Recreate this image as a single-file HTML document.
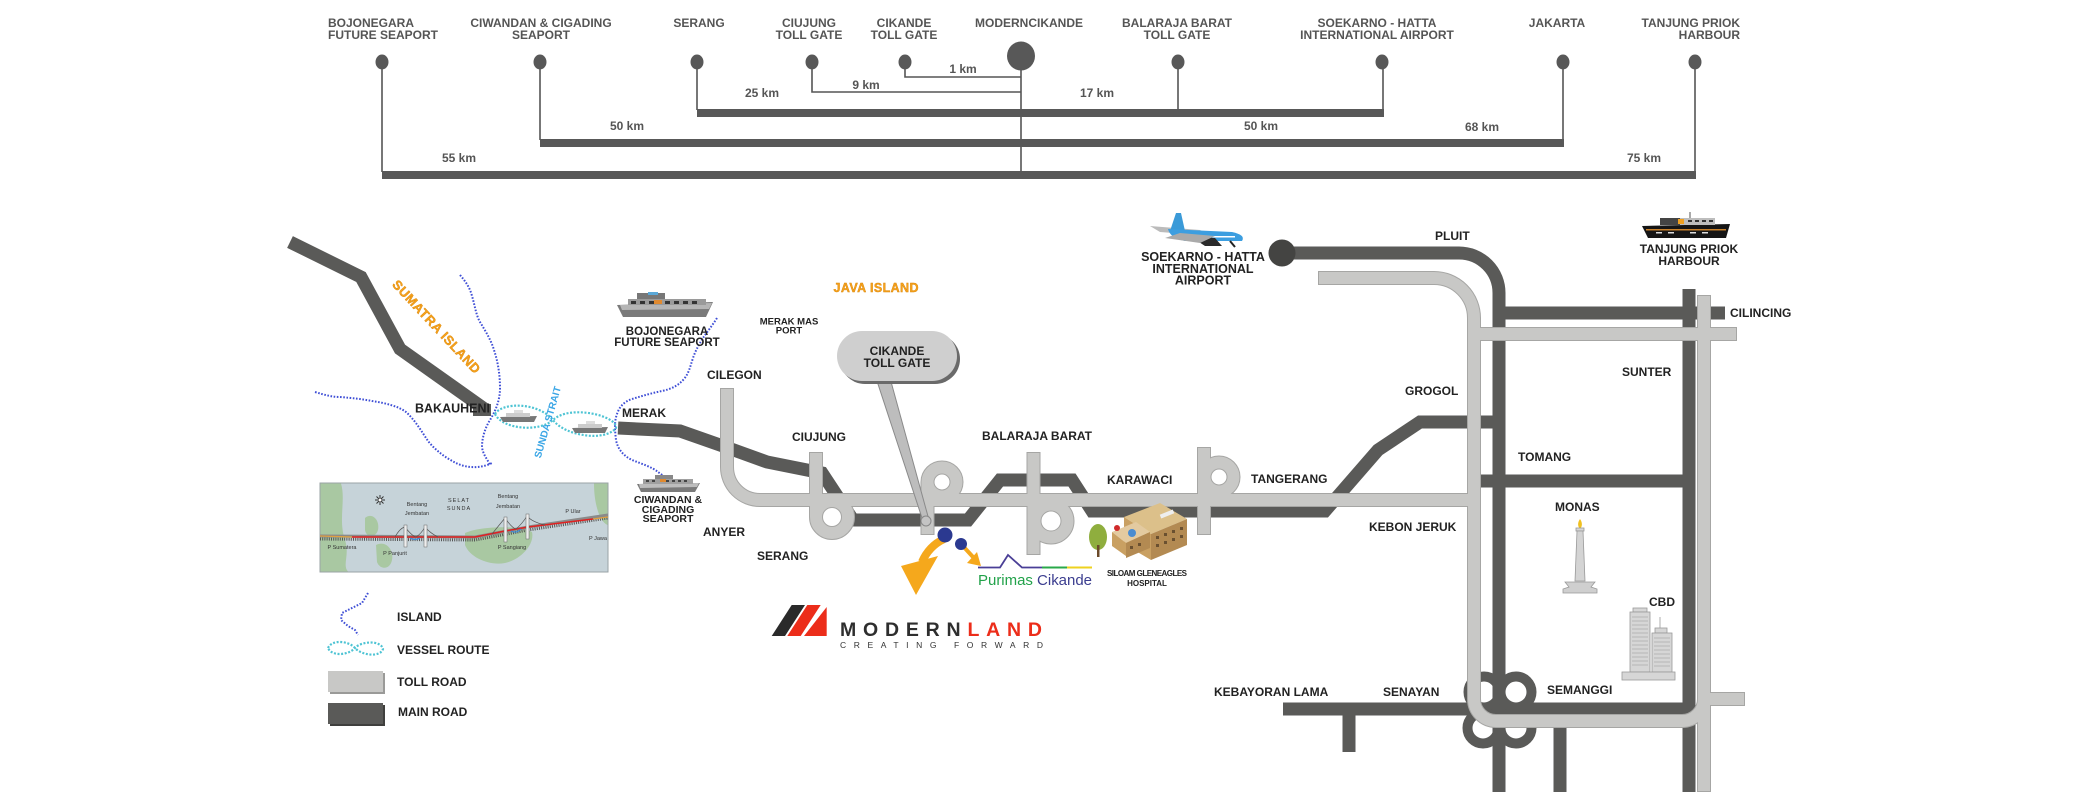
<!DOCTYPE html>
<html><head><meta charset="utf-8">
<style>
html,body{margin:0;padding:0;background:#fff;}
svg{display:block}
text{font-family:"Liberation Sans",sans-serif;font-weight:bold;}
.t{fill:#555;font-size:12px;text-anchor:middle}
.k{fill:#555;font-size:12px;text-anchor:middle}
.m{fill:#222;font-size:12px}
.c{fill:#222;text-anchor:middle}
.sm{font-weight:normal;fill:#333;font-size:5.5px;text-anchor:middle}
</style></head>
<body>
<svg width="2087" height="812" viewBox="0 0 2087 812" xmlns="http://www.w3.org/2000/svg">
<rect width="2087" height="812" fill="#fff"/>

<!-- ===== TOP DISTANCE CHART ===== -->
<g>
<text class="t" x="328" y="27" style="text-anchor:start">BOJONEGARA</text>
<text class="t" x="328" y="39" style="text-anchor:start">FUTURE SEAPORT</text>
<text class="t" x="541" y="27">CIWANDAN &amp; CIGADING</text>
<text class="t" x="541" y="39">SEAPORT</text>
<text class="t" x="699" y="27">SERANG</text>
<text class="t" x="809" y="27">CIUJUNG</text>
<text class="t" x="809" y="39">TOLL GATE</text>
<text class="t" x="904" y="27">CIKANDE</text>
<text class="t" x="904" y="39">TOLL GATE</text>
<text class="t" x="1029" y="27">MODERNCIKANDE</text>
<text class="t" x="1177" y="27">BALARAJA BARAT</text>
<text class="t" x="1177" y="39">TOLL GATE</text>
<text class="t" x="1377" y="27">SOEKARNO - HATTA</text>
<text class="t" x="1377" y="39">INTERNATIONAL AIRPORT</text>
<text class="t" x="1557" y="27">JAKARTA</text>
<text class="t" x="1740" y="27" style="text-anchor:end">TANJUNG PRIOK</text>
<text class="t" x="1740" y="39" style="text-anchor:end">HARBOUR</text>

<g stroke="#555" stroke-width="1.6" fill="none">
<path d="M905,62 V77 H1021"/>
<path d="M812,62 V92 H1021"/>
<path d="M1021,60 V175"/>
<path d="M697,62 V110"/>
<path d="M1178,62 V110"/>
<path d="M1383,62 V110"/>
<path d="M540,62 V140"/>
<path d="M1563,62 V140"/>
<path d="M382,62 V172"/>
<path d="M1695,62 V172"/>
</g>
<g fill="#585858">
<rect x="697" y="109" width="687" height="8"/>
<rect x="540" y="139" width="1024" height="8"/>
<rect x="382" y="171" width="1314" height="8"/>
<ellipse cx="382" cy="62" rx="6.5" ry="7.5"/>
<ellipse cx="540" cy="62" rx="6.5" ry="7.5"/>
<ellipse cx="697" cy="62" rx="6.5" ry="7.5"/>
<ellipse cx="812" cy="62" rx="6.5" ry="7.5"/>
<ellipse cx="905" cy="62" rx="6.5" ry="7.5"/>
<ellipse cx="1178" cy="62" rx="6.5" ry="7.5"/>
<ellipse cx="1382" cy="62" rx="6.5" ry="7.5"/>
<ellipse cx="1563" cy="62" rx="6.5" ry="7.5"/>
<ellipse cx="1695" cy="62" rx="6.5" ry="7.5"/>
<ellipse cx="1021" cy="56" rx="14" ry="14.5"/>
</g>
<text class="k" x="963" y="73">1 km</text>
<text class="k" x="866" y="89">9 km</text>
<text class="k" x="762" y="97">25 km</text>
<text class="k" x="1097" y="97">17 km</text>
<text class="k" x="627" y="130">50 km</text>
<text class="k" x="1261" y="130">50 km</text>
<text class="k" x="1482" y="131">68 km</text>
<text class="k" x="459" y="162">55 km</text>
<text class="k" x="1644" y="162">75 km</text>
</g>

<!-- ===== MAP: DARK ROADS ===== -->
<g stroke="#5a5a58" stroke-width="13" fill="none" stroke-linejoin="miter">
<polyline points="290,242 361,277 400,349 486,410"/>
<polyline points="618,428 680,431 720,445 767,462 822,473 853,520 968,520 1000,480 1072,480 1092,511 1325,511 1378,450 1420,422 1505,422"/>
<path d="M1282,253 H1459 A40,40 0 0 1 1499,293 V792"/>
<path d="M1499,313 H1725"/>
<path d="M1480,481 H1689"/>
<path d="M1689,289 V792"/>
<path d="M1283,709 H1689"/>
<path d="M1349,709 V752"/>
<path d="M1560,709 V792"/>
</g>
<rect x="473" y="404" width="18" height="12" fill="#5a5a58"/>
<circle cx="1282" cy="253" r="13.5" fill="#444442"/>
<!-- semanggi rings -->
<g stroke="#5a5a58" stroke-width="10" fill="none">
<circle cx="1484" cy="692" r="15.5"/>
<circle cx="1516" cy="692" r="15.5"/>
<circle cx="1483" cy="728" r="15.5"/>
<circle cx="1516" cy="728" r="15.5"/>
</g>

<!-- ===== MAP: TOLL ROADS ===== -->
<g fill="none" stroke-linejoin="miter">
<g stroke="#a6a6a4" stroke-width="14">
<path d="M727,388 V467 A33,33 0 0 0 760,500 H1474"/>
<path d="M816,452 V517"/>
<circle cx="832" cy="517" r="16"/>
<path d="M927.5,482 V535"/>
<circle cx="942" cy="482" r="14.5"/>
<path d="M1033.5,452 V555"/>
<circle cx="1051" cy="521" r="16.5"/>
<path d="M1204,447 V535"/>
<circle cx="1219" cy="477" r="14.5"/>
<path d="M1318,278 H1434 A40,40 0 0 1 1474,318 V699 A22,22 0 0 0 1496,721 H1682 A22,22 0 0 0 1704,699"/>
<path d="M1704,295 V792"/>
<path d="M1474,334 H1737"/>
<path d="M1704,699 H1745"/>
</g>
<g stroke="#c8c8c6" stroke-width="12">
<path d="M727,389 V467 A33,33 0 0 0 760,500 H1474"/>
<path d="M816,453 V517"/>
<circle cx="832" cy="517" r="16"/>
<path d="M927.5,482 V534"/>
<circle cx="942" cy="482" r="14.5"/>
<path d="M1033.5,453 V554"/>
<circle cx="1051" cy="521" r="16.5"/>
<path d="M1204,448 V534"/>
<circle cx="1219" cy="477" r="14.5"/>
<path d="M1319,278 H1434 A40,40 0 0 1 1474,318 V699 A22,22 0 0 0 1496,721 H1682 A22,22 0 0 0 1704,699"/>
<path d="M1704,296 V791"/>
<path d="M1474,334 H1736"/>
<path d="M1704,699 H1744"/>
</g>
</g>

<!-- ===== ISLAND LINES (blue dotted) ===== -->
<g fill="none" stroke="#3f4fd6" stroke-width="2" stroke-dasharray="1.6 1.6" stroke-linejoin="round">
<path d="M460,275 C466,282 470,288 472,296 C475,306 476,315 480,322 C486,332 491,340 494,350 C498,362 500,375 500,388 C500,400 496,410 490,420 C485,428 482,438 482,447 C483,455 488,460 490,465"/>
<path d="M315,392 C325,395 332,397 340,397 C352,398 362,399 372,401 C385,403 398,406 406,412 C415,420 422,432 428,441 C436,451 446,458 456,463 C466,468 480,469 492,463"/>
<path d="M717,318 C712,326 707,332 703,338 C698,346 695,352 693,358 C690,367 689,373 684,379 C678,386 671,389 662,391 C652,393 642,396 632,399 C623,402 619,408 617,414 C614,422 615,431 616,440 C618,450 624,456 632,460 C642,464 652,467 658,472 L665,477"/>
</g>
<!-- legend island -->
<polyline points="368,593 362,603 350,609 342,613 341,620 348,626 355,630 358,635" fill="none" stroke="#3f4fd6" stroke-width="2" stroke-dasharray="1.6 1.6"/>

<!-- ===== VESSEL ROUTE (cyan dotted) ===== -->
<g fill="none" stroke="#4fc4d4" stroke-width="2.2" stroke-dasharray="2 1.6">
<path d="M495,414 C502,402 538,402 553,420 C565,436 605,442 616,428 C618,416 570,404 553,420 C540,432 503,430 495,414 Z"/>
<path d="M328,648 C332,639 349,641 355,648 C361,655 380,658 383,649 C381,640 361,641 355,648 C349,655 332,657 328,648 Z"/>
</g>

<!-- ships in strait -->
<g>
<polygon points="500,417 537,416 534,422 503,422" fill="#777"/>
<rect x="506" y="413" width="24" height="4" fill="#ccc"/>
<rect x="514" y="410" width="9" height="3" fill="#ddd"/>
<polygon points="572,428 608,427 605,433 575,433" fill="#777"/>
<rect x="578" y="424" width="24" height="4" fill="#ccc"/>
<rect x="586" y="421" width="9" height="3" fill="#ddd"/>
</g>

<!-- Bojonegara ship -->
<g>
<polygon points="617,305 713,302 706,317 623,317" fill="#7a7a7a"/>
<polygon points="620,305 712,303 709,309 622,310" fill="#b5b5b5"/>
<rect x="628" y="299" width="78" height="6" fill="#9a9a9a"/>
<g fill="#333"><rect x="631" y="301" width="5" height="3"/><rect x="640" y="301" width="5" height="3"/><rect x="649" y="301" width="5" height="3"/><rect x="665" y="301" width="5" height="3"/><rect x="674" y="301" width="5" height="3"/><rect x="683" y="301" width="5" height="3"/><rect x="692" y="301" width="5" height="3"/></g>
<rect x="637" y="293" width="28" height="6" fill="#777"/>
<rect x="648" y="292" width="10" height="3" fill="#5aa8d8"/>
<rect x="654" y="300" width="8" height="4" fill="#e08a30"/>
</g>
<!-- Ciwandan ship -->
<g>
<polygon points="637,484 700,483 695,492 641,492" fill="#7a7a7a"/>
<polygon points="639,484 699,483 697,487 640,488" fill="#bdbdbd"/>
<rect x="643" y="479" width="50" height="5" fill="#a0a0a0"/>
<g fill="#444"><rect x="646" y="480" width="3" height="2"/><rect x="652" y="480" width="3" height="2"/><rect x="666" y="480" width="3" height="2"/><rect x="672" y="480" width="3" height="2"/><rect x="678" y="480" width="3" height="2"/><rect x="684" y="480" width="3" height="2"/></g>
<rect x="655" y="475" width="18" height="4" fill="#888"/>
<rect x="660" y="479" width="6" height="3" fill="#e08a30"/>
</g>
<!-- Tanjung Priok ship -->
<g>
<polygon points="1642,226 1730,224 1726,238 1648,238" fill="#151515"/>
<rect x="1646" y="229" width="80" height="1.5" fill="#c8802a"/>
<rect x="1660" y="218" width="55" height="7" fill="#bdbdbd"/>
<rect x="1660" y="218" width="20" height="7" fill="#444"/>
<rect x="1678" y="219" width="6" height="5" fill="#f0a020"/>
<g fill="#333"><rect x="1688" y="220" width="4" height="2"/><rect x="1695" y="220" width="4" height="2"/><rect x="1702" y="220" width="4" height="2"/><rect x="1709" y="220" width="4" height="2"/></g>
<line x1="1690" y1="212" x2="1690" y2="218" stroke="#555" stroke-width="1"/>
<g fill="#ddd"><rect x="1656" y="232" width="6" height="1.5"/><rect x="1668" y="232" width="6" height="1.5"/><rect x="1690" y="232" width="6" height="1.5"/><rect x="1702" y="232" width="6" height="1.5"/></g>
</g>
<!-- Airplane -->
<g>
<polygon points="1150,226 1200,230 1212,236 1160,232" fill="#bbb"/>
<polygon points="1170,231 1176,213 1181,213 1185,231" fill="#3a9ad8"/>
<path d="M1168,229 L1232,232 Q1246,235 1242,241 L1185,241 Q1170,238 1168,229 Z" fill="#3c9ee0"/>
<rect x="1185" y="236" width="50" height="1.5" fill="#fff"/>
<polygon points="1190,236 1215,238 1222,246 1205,246" fill="#2a2a2a"/>
<polygon points="1180,233 1215,236 1200,243 1165,238" fill="#aaa"/>
<line x1="1230" y1="241" x2="1235" y2="247" stroke="#222" stroke-width="2"/>
</g>

<!-- Orange island texts -->
<text x="436" y="331" transform="rotate(47 436 327)" font-size="13" fill="#f6a21c" stroke="#d9860a" stroke-width="0.4" text-anchor="middle" textLength="122">SUMATRA ISLAND</text>
<text x="876" y="292" font-size="12.5" fill="#f6a21c" stroke="#d9860a" stroke-width="0.4" text-anchor="middle" textLength="85">JAVA ISLAND</text>
<text x="547" y="426" transform="rotate(-74 547 422)" font-size="10" fill="#3aa6e6" text-anchor="middle" textLength="74">SUNDA STRAIT</text>

<!-- ===== MAP LABELS ===== -->
<g class="m">
<text class="m" x="415" y="412.5" style="font-size:12.5px">BAKAUHENI</text>
<text class="m" x="622" y="417">MERAK</text>
<text class="m" x="707" y="379">CILEGON</text>
<text class="m" x="792" y="441">CIUJUNG</text>
<text class="m" x="703" y="536">ANYER</text>
<text class="m" x="757" y="560">SERANG</text>
<text class="m" x="982" y="440">BALARAJA BARAT</text>
<text class="m" x="1107" y="484">KARAWACI</text>
<text class="m" x="1251" y="483">TANGERANG</text>
<text class="m" x="1405" y="395">GROGOL</text>
<text class="m" x="1369" y="531">KEBON JERUK</text>
<text class="m" x="1435" y="240">PLUIT</text>
<text class="m" x="1518" y="461">TOMANG</text>
<text class="m" x="1622" y="376">SUNTER</text>
<text class="m" x="1730" y="317">CILINCING</text>
<text class="m" x="1555" y="511">MONAS</text>
<text class="m" x="1649" y="606">CBD</text>
<text class="m" x="1214" y="696">KEBAYORAN LAMA</text>
<text class="m" x="1383" y="696">SENAYAN</text>
<text class="m" x="1547" y="694">SEMANGGI</text>
</g>
<g class="c">
<text class="c" x="667" y="335" font-size="11.5">BOJONEGARA</text>
<text class="c" x="667" y="346" font-size="11.5">FUTURE SEAPORT</text>
<text class="c" x="668" y="503" font-size="10.5">CIWANDAN &amp;</text>
<text class="c" x="668" y="513" font-size="10.5">CIGADING</text>
<text class="c" x="668" y="522" font-size="10.5">SEAPORT</text>
<text class="c" x="789" y="324.5" font-size="9.5">MERAK MAS</text>
<text class="c" x="789" y="333.5" font-size="9.5">PORT</text>
<text class="c" x="1203" y="261" font-size="12.5">SOEKARNO - HATTA</text>
<text class="c" x="1203" y="273" font-size="12.5">INTERNATIONAL</text>
<text class="c" x="1203" y="284.5" font-size="12.5">AIRPORT</text>
<text class="c" x="1689" y="253" font-size="12">TANJUNG PRIOK</text>
<text class="c" x="1689" y="265" font-size="12">HARBOUR</text>
<text class="c" x="1147" y="576" font-size="8" textLength="80">SILOAM GLENEAGLES</text>
<text class="c" x="1147" y="586" font-size="8">HOSPITAL</text>
</g>

<!-- Cikande toll gate bubble -->
<g>
<polygon points="876,378 890,378 929,520 923,521" fill="#bdbdbd" stroke="#8a8a8a" stroke-width="1"/>
<rect x="840" y="334" width="120" height="50" rx="25" fill="#6a6a6a"/>
<rect x="837" y="331" width="120" height="50" rx="25" fill="#cfcfcf"/>
<circle cx="926" cy="521" r="5" fill="#c4c4c4" stroke="#888" stroke-width="1"/>
<text class="c" x="897" y="355" font-size="12">CIKANDE</text>
<text class="c" x="897" y="367" font-size="12">TOLL GATE</text>
</g>

<!-- Purimas -->
<g>
<path d="M944,539 Q929,546 922,562" stroke="#f5a81c" stroke-width="8" fill="none"/>
<polygon points="901,566 938,556 916,595" fill="#f5a81c"/>
<circle cx="945" cy="535" r="7.5" fill="#2b3990"/>
<path d="M962,545 L973,557" stroke="#f5a81c" stroke-width="4" fill="none"/>
<polygon points="967,563 977,552 981,566" fill="#f5a81c"/>
<circle cx="961" cy="544" r="6" fill="#2b3990"/>
<polyline points="978,567.5 1000,567.5 1008,555 1022,567.5 1042,567.5" fill="none" stroke="#4a3f96" stroke-width="1.8"/>
<line x1="1042" y1="567.5" x2="1067" y2="567.5" stroke="#2aa84a" stroke-width="2"/>
<line x1="1067" y1="567.5" x2="1092" y2="567.5" stroke="#eed21f" stroke-width="2"/>
<text x="978" y="585" font-size="15" style="font-weight:normal" textLength="114"><tspan fill="#22a24a">Purimas </tspan><tspan fill="#3b3d8f">Cikande</tspan></text>
</g>

<!-- Siloam hospital -->
<g>
<ellipse cx="1098" cy="537" rx="9" ry="13" fill="#8fae3e"/>
<rect x="1097" y="545" width="2.5" height="12" fill="#6b4a2a"/>
<polygon points="1124,517 1160,503 1187,519 1151,534" fill="#dcc08a"/>
<polygon points="1124,517 1151,534 1151,560 1124,544" fill="#c9a062"/>
<polygon points="1151,534 1187,519 1187,545 1151,560" fill="#b38a52"/>
<polygon points="1112,532 1136,522 1150,532 1126,543" fill="#e3caa0"/>
<polygon points="1112,532 1126,543 1126,556 1112,546" fill="#c9a062"/>
<polygon points="1126,543 1150,532 1150,548 1126,558" fill="#b38a52"/>
<circle cx="1132" cy="533" r="4" fill="#4a8cd0"/>
<circle cx="1117" cy="528" r="3" fill="#d02a2a"/>
<g fill="#6a5030">
<rect x="1156" y="536" width="3" height="3"/><rect x="1164" y="533" width="3" height="3"/><rect x="1172" y="530" width="3" height="3"/><rect x="1180" y="527" width="3" height="3"/>
<rect x="1156" y="544" width="3" height="3"/><rect x="1164" y="541" width="3" height="3"/><rect x="1172" y="538" width="3" height="3"/><rect x="1180" y="535" width="3" height="3"/>
<rect x="1130" y="546" width="3" height="3"/><rect x="1138" y="543" width="3" height="3"/>
</g>
<rect x="1160" y="512" width="14" height="4" fill="#eee" transform="rotate(-22 1167 514)"/>
</g>

<!-- Modernland logo -->
<g>
<polygon points="771.7,636 785,636 805,605 791.7,605" fill="#2a2a2a"/>
<polygon points="787.3,636 800.7,636 820.7,605 807.3,605" fill="#ec2d1a"/>
<polygon points="804,636 826.7,636 826.7,607" fill="#ec2d1a"/>
<text x="840" y="636" font-size="19.5" textLength="202" lengthAdjust="spacing"><tspan fill="#2e2e2e">MODERN</tspan><tspan fill="#ec2d1a">LAND</tspan></text>
<text x="840" y="648" font-size="8.5" fill="#333" style="font-weight:normal" textLength="203" lengthAdjust="spacing">CREATING  FORWARD</text>
</g>

<!-- Monas -->
<g stroke="#999" stroke-width="0.8">
<path d="M1580,519 C1577,523 1578,527 1580,529 C1582,527 1583,523 1580,519Z" fill="#f0c020" stroke="none"/>
<rect x="1576" y="528" width="8" height="3" fill="#d6d6d6"/>
<polygon points="1577,531 1583,531 1585,581 1575,581" fill="#d4d4d4"/>
<polygon points="1565,582 1595,582 1591,587 1597,589 1597,593 1563,593 1563,589 1569,587" fill="#cfcfcf"/>
</g>

<!-- CBD -->
<g stroke="#9a9a9a" stroke-width="0.8" fill="#d6d6d6">
<rect x="1633" y="608" width="14" height="4"/>
<rect x="1630" y="612" width="20" height="60"/>
<line x1="1660" y1="617" x2="1660" y2="628"/>
<rect x="1655" y="628" width="12" height="5"/>
<rect x="1652" y="633" width="20" height="39"/>
<rect x="1622" y="672" width="53" height="8"/>
<g stroke="#aaa">
<path d="M1632,617 H1648 M1632,621 H1648 M1632,625 H1648 M1632,629 H1648 M1632,633 H1648 M1632,637 H1648 M1632,641 H1648 M1632,645 H1648 M1632,649 H1648 M1632,653 H1648 M1632,657 H1648 M1632,661 H1648 M1632,665 H1648"/>
<path d="M1654,638 H1670 M1654,642 H1670 M1654,646 H1670 M1654,650 H1670 M1654,654 H1670 M1654,658 H1670 M1654,662 H1670 M1654,666 H1670"/>
</g>
</g>

<!-- Inset bridge map -->
<g>
<rect x="320" y="483" width="288" height="89" fill="#c6d3d9" stroke="#9aa3a6" stroke-width="1"/>
<path d="M320.5,483.5 H341 C346,500 338,520 345,540 C350,555 342,565 348,571.5 H320.5Z" fill="#a9c8a2"/>
<path d="M365,518 C372,512 380,520 378,530 C376,538 366,538 365,530Z" fill="#a9c8a2"/>
<path d="M376,545 C386,540 394,550 392,560 C390,570 380,570 377,562Z" fill="#a9c8a2"/>
<path d="M465,533 C480,526 520,525 532,532 C535,545 520,560 505,563 C490,566 470,558 465,545Z" fill="#a9c8a2"/>
<path d="M594,483.5 H607.5 V525 C600,522 594,505 594,483.5Z" fill="#a9c8a2"/>
<polyline points="320,539 475,540 528,530 608,518" fill="none" stroke="#555" stroke-width="3" stroke-dasharray="1 1.2"/>
<polyline points="320,536 475,537 528,527 608,515" fill="none" stroke="#8a8a8a" stroke-width="3"/>
<polyline points="320,536 352,537" fill="none" stroke="#e0a040" stroke-width="1.2"/>
<polyline points="352,537 475,537 505,531 528,527 593,519" fill="none" stroke="#e02020" stroke-width="1.5"/>
<polyline points="593,519 608,517" fill="none" stroke="#e0a040" stroke-width="1.2"/>
<g fill="none" stroke="#555" stroke-width="0.7">
<path d="M395,537 Q400,528 405,527 Q412,536 416,537 Q421,534 425,527 Q430,533 438,537"/>
<path d="M492,534 Q500,524 505,518 Q512,528 516,529 Q522,524 527,516 Q532,522 545,525"/>
</g>
<path d="M410,538 Q415,541 420,538 M511,531 Q516,534 521,529" stroke="#3a8ad8" stroke-width="1.2" fill="none"/>
<g fill="#eee" stroke="#666" stroke-width="0.5">
<rect x="404" y="525" width="3" height="22"/>
<rect x="424" y="525" width="3" height="22"/>
<rect x="504" y="517" width="3" height="25"/>
<rect x="526" y="514" width="3" height="25"/>
</g>
<g stroke="#333" stroke-width="1"><path d="M375,500 H385 M380,495 V505 M376.5,496.5 L383.5,503.5 M383.5,496.5 L376.5,503.5"/></g>
<circle cx="380" cy="500" r="1.8" fill="#fff" stroke="#333" stroke-width="0.6"/>
<text class="sm" x="417" y="506">Bentang</text>
<text class="sm" x="417" y="515">Jembatan</text>
<text class="sm" x="459" y="502" style="letter-spacing:1px">SELAT</text>
<text class="sm" x="459" y="510" style="letter-spacing:1px">SUNDA</text>
<text class="sm" x="508" y="498">Bentang</text>
<text class="sm" x="508" y="508">Jembatan</text>
<text class="sm" x="573" y="513">P Ular</text>
<text class="sm" x="598" y="540">P Jawa</text>
<text class="sm" x="342" y="549">P Sumatera</text>
<text class="sm" x="395" y="555">P Panjurit</text>
<text class="sm" x="512" y="549">P Sangiang</text>
</g>

<!-- Legend -->
<g>
<rect x="330" y="673" width="55" height="21" fill="#9a9a98"/>
<rect x="328" y="671" width="55" height="21" fill="#c8c8c6"/>
<rect x="330" y="705" width="55" height="21" fill="#3f3f3d"/>
<rect x="328" y="703" width="55" height="21" fill="#5a5a58"/>
<text class="m" x="397" y="621">ISLAND</text>
<text class="m" x="397" y="654">VESSEL ROUTE</text>
<text class="m" x="397" y="686">TOLL ROAD</text>
<text class="m" x="398" y="716">MAIN ROAD</text>
</g>
</svg>
</body></html>
